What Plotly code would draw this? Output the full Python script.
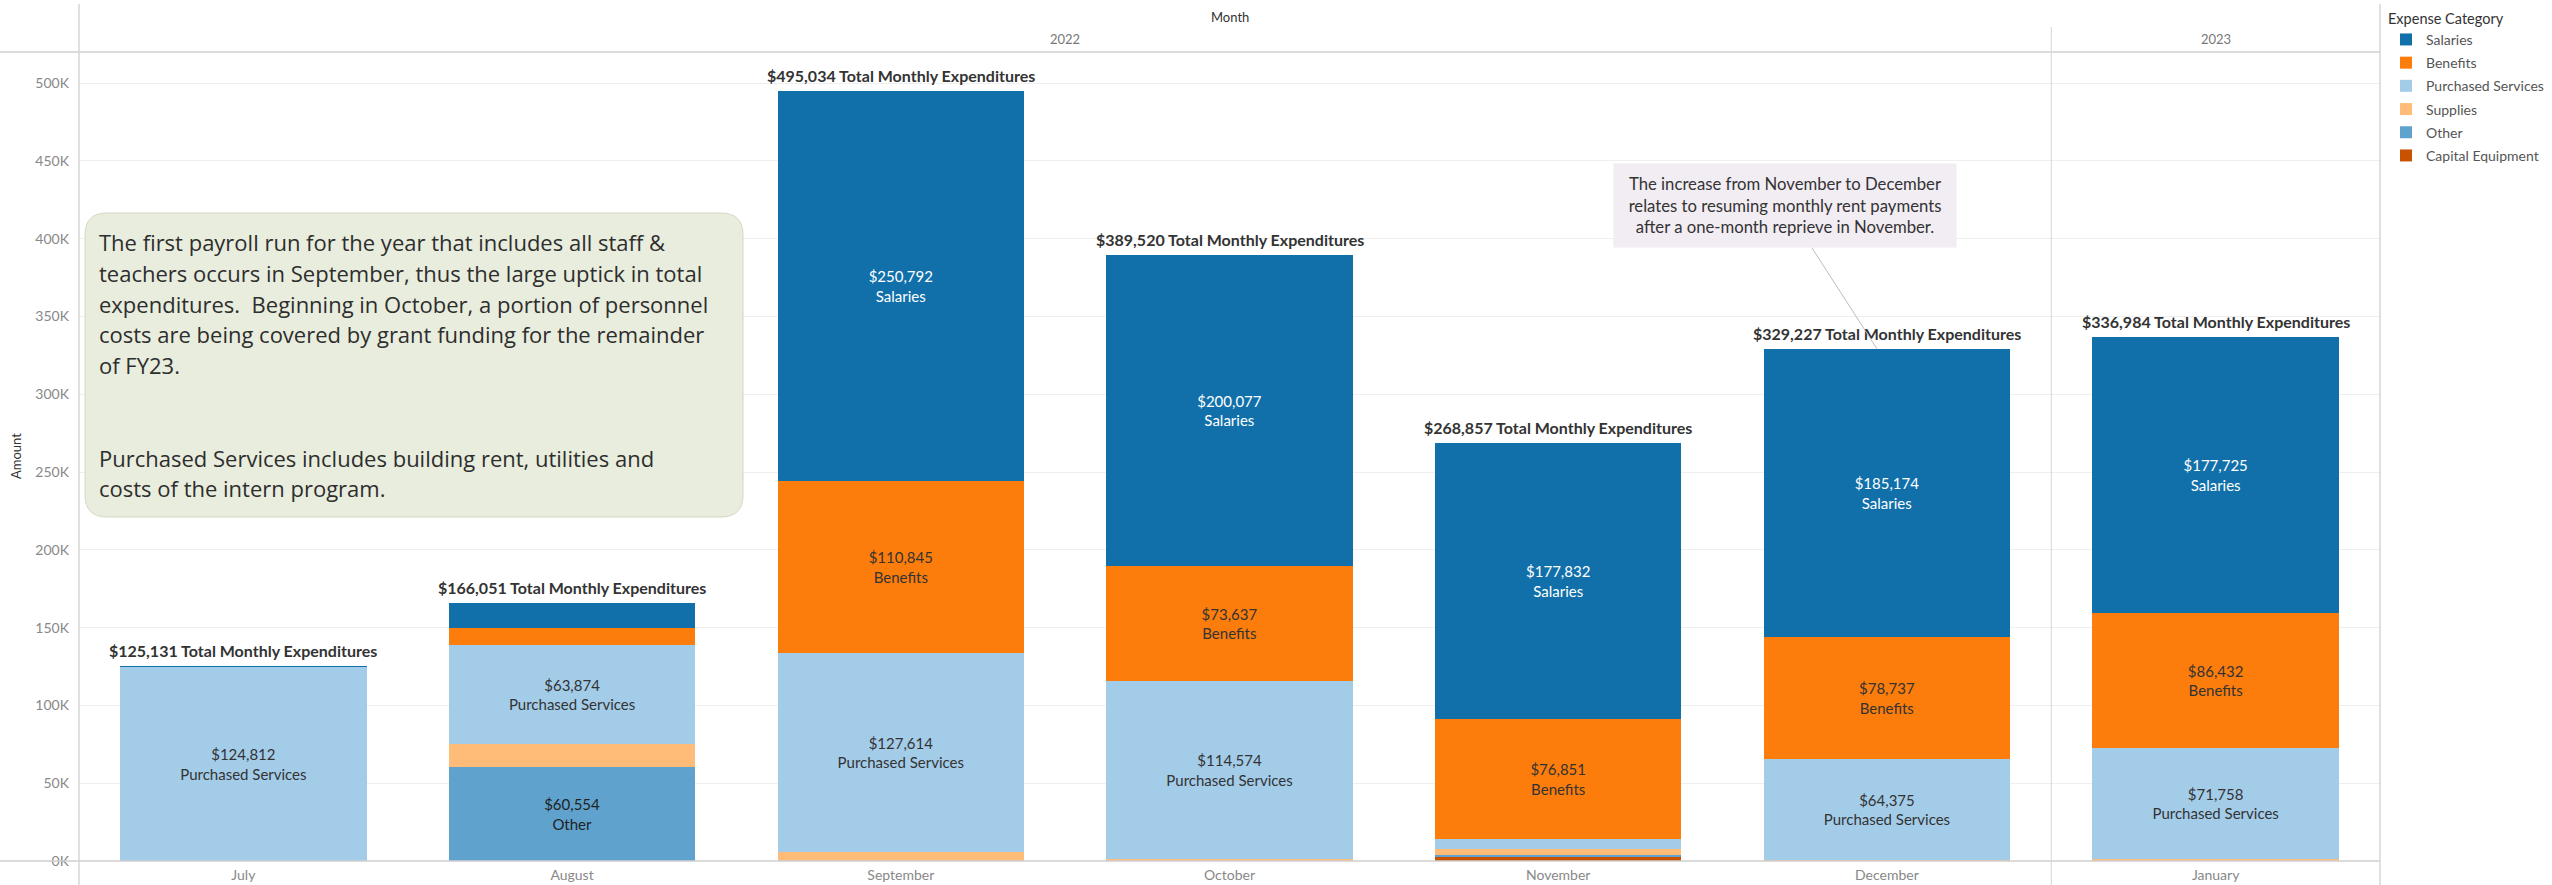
import plotly.graph_objects as go

# ---------------- data ----------------
months = ["July", "August", "September", "October", "November", "December", "January"]
year_labels = ["2022", "2023"]
year_centers = [2.5, 6]          # category index centers of the year headers

salaries = [319, 16553, 250792, 200077, 177832, 185174, 177725]
benefits = [0, 10650, 110845, 73637, 76851, 78737, 86432]
purchased_services = [124812, 63874, 127614, 114574, 6600, 64375, 71758]
supplies = [0, 14420, 5783, 1232, 3600, 941, 1069]
other = [0, 60554, 0, 0, 850, 0, 0]
capital_equipment = [0, 0, 0, 0, 3124, 0, 0]
totals = [125131, 166051, 495034, 389520, 268857, 329227, 336984]

y_ticks = [0, 50000, 100000, 150000, 200000, 250000, 300000, 350000, 400000, 450000, 500000]
y_tick_text = ["0K", "50K", "100K", "150K", "200K", "250K", "300K", "350K", "400K", "450K", "500K"]

note_left_lines = [
    "The first payroll run for the year that includes all staff &",
    "teachers occurs in September, thus the large uptick in total",
    "expenditures.  Beginning in October, a portion of personnel",
    "costs are being covered by grant funding for the remainder",
    "of FY23.",
    "",
    "",
    "Purchased Services includes building rent, utilities and",
    "costs of the intern program.",
]
note_right = ("The increase from November to December<br>"
              "relates to resuming monthly rent payments<br>"
              "after a one-month reprieve in November.")

# stacking order bottom -> top (legend rank: top -> bottom)
series = [
    ("Capital Equipment", capital_equipment, "#c85200", "#333333", 6),
    ("Other", other, "#5fa2ce", "#222222", 5),
    ("Supplies", supplies, "#ffbc79", "#333333", 4),
    ("Purchased Services", purchased_services, "#a3cce9", "#333333", 3),
    ("Benefits", benefits, "#fc7d0b", "#333333", 2),
    ("Salaries", salaries, "#1170aa", "#ffffff", 1),
]

FONT = "Lato"
NOTE_FONT = "Open Sans"
W_PX, H_PX = 2552, 885
L, R, T, B = 79, 2380, 52, 861
PW, PH = R - L, B - T


def px_x(X):
    return (X - L) / PW


def px_y(Y):
    return (B - Y) / PH


fig = go.Figure()
for name, vals, color, tcolor, rank in series:
    texts = [f"${v:,.0f}<br>{name}" if v > 30000 else "" for v in vals]
    fig.add_trace(go.Bar(
        x=months, y=vals, name=name, legendgroup=name, legendrank=rank,
        marker=dict(color=color, line=dict(width=0)),
        text=texts, textposition="inside", insidetextanchor="middle",
        textangle=0, constraintext="none",
        textfont=dict(family=FONT, size=15, color=tcolor),
        hoverinfo="skip",
    ))

annotations = []
# total labels
for m, t in zip(months, totals):
    annotations.append(dict(
        x=m, y=t, xref="x", yref="y", text=f"${t:,.0f} Total Monthly Expenditures",
        showarrow=False, yanchor="bottom", yshift=4,
        font=dict(family=FONT, size=16, color="#333333", weight="bold"),
    ))

# header
annotations.append(dict(x=0.5, y=px_y(17), xref="paper", yref="paper", text="Month",
                        xanchor="center", yanchor="middle", showarrow=False,
                        font=dict(family=FONT, size=13, color="#333333")))
for yl, yc in zip(year_labels, year_centers):
    annotations.append(dict(x=yc, y=px_y(39), xref="x", yref="paper", text=yl,
                            xanchor="center", yanchor="middle", showarrow=False,
                            font=dict(family=FONT, size=13, color="#777777")))

# y title
annotations.append(dict(x=px_x(16), y=px_y(456), xref="paper", yref="paper", text="Amount",
                        xanchor="center", yanchor="middle", textangle=-90, showarrow=False,
                        font=dict(family=FONT, size=13, color="#333333")))

# left note lines
line_y0, line_dy = 242, 30.8
for i, ln in enumerate(note_left_lines):
    if not ln:
        continue
    annotations.append(dict(
        x=px_x(97), y=px_y(line_y0 + i * line_dy), xref="paper", yref="paper",
        text=ln, showarrow=False, xanchor="left", yanchor="middle", align="left",
        font=dict(family=NOTE_FONT, size=22, color="#2e2e2e"),
    ))

# right note with pointer
annotations.append(dict(
    x="December", y=totals[5], xref="x", yref="y", xshift=-10,
    text=note_right, showarrow=True, arrowhead=0, arrowwidth=1, arrowcolor="#bdbdbd",
    ax=-92, ay=-143, axref="pixel", ayref="pixel",
    bgcolor="#f2ecf3", borderpad=10, width=322, height=63, align="center",
    font=dict(family=FONT, size=16.7, color="#333333"),
))

# rounded box for the left note
bx0, bx1, by0, by1, rad = px_x(85), px_x(743), px_y(213), px_y(517), 22
rx, ry = rad / PW, rad / PH
path = (f"M {bx0+rx},{by0} L {bx1-rx},{by0} Q {bx1},{by0} {bx1},{by0-ry} "
        f"L {bx1},{by1+ry} Q {bx1},{by1} {bx1-rx},{by1} "
        f"L {bx0+rx},{by1} Q {bx0},{by1} {bx0},{by1+ry} "
        f"L {bx0},{by0-ry} Q {bx0},{by0} {bx0+rx},{by0} Z")

line_col = "#d6d6d6"
shapes = [
    dict(type="path", path=path, xref="paper", yref="paper",
         fillcolor="#e9eddd", line=dict(color="#d3d8c4", width=1), layer="above"),
    # header bottom line
    dict(type="line", xref="paper", yref="paper", x0=px_x(0), x1=1, y0=1, y1=1,
         line=dict(color="#dcdcdc", width=2), layer="above"),
    # bottom axis line
    dict(type="line", xref="paper", yref="paper", x0=px_x(0), x1=1, y0=0, y1=0,
         line=dict(color="#cfcfcf", width=1.5), layer="above"),
    # left axis line
    dict(type="line", xref="paper", yref="paper", x0=0, x1=0, y0=px_y(885), y1=px_y(4),
         line=dict(color=line_col, width=1.5), layer="above"),
    # legend divider
    dict(type="line", xref="paper", yref="paper", x0=1, x1=1, y0=px_y(885), y1=px_y(4),
         line=dict(color=line_col, width=1.5), layer="above"),
    # year separator
    dict(type="line", xref="x", yref="paper", x0=5.5, x1=5.5, y0=px_y(885), y1=px_y(27),
         line=dict(color=line_col, width=1), layer="above"),
]

fig.update_layout(
    width=W_PX, height=H_PX,
    margin=dict(l=L, r=W_PX - R, t=T, b=H_PX - B, autoexpand=False),
    barmode="stack", bargap=0.25,
    plot_bgcolor="white", paper_bgcolor="white",
    font=dict(family=FONT, color="#333333"),
    showlegend=True,
    legend=dict(
        x=px_x(2386), y=px_y(5), xanchor="left", yanchor="top",
        traceorder="grouped", tracegroupgap=2,
        title=dict(text="Expense Category", font=dict(family=FONT, size=14.5, color="#333333")),
        font=dict(family=FONT, size=14, color="#555555"),
        bgcolor="rgba(0,0,0,0)",
    ),
    xaxis=dict(
        type="category", categoryorder="array", categoryarray=months,
        range=[-0.5, 6.5], showgrid=False, showline=False, zeroline=False,
        ticks="", ticklabelstandoff=4,
        tickfont=dict(family=FONT, size=14, color="#888888"),
    ),
    yaxis=dict(
        range=[0, 520000], tickvals=y_ticks, ticktext=y_tick_text,
        showgrid=True, gridcolor="#efefef", gridwidth=1,
        zeroline=False, showline=False, ticks="", ticklabelstandoff=9,
        tickfont=dict(family=FONT, size=14, color="#888888"),
    ),
    annotations=annotations,
    shapes=shapes,
    uniformtext=dict(minsize=15, mode="show"),
)

fig.write_html("out.html", config={"displayModeBar": False},
               post_script="document.body.style.margin='0';document.body.style.overflow='hidden';")
